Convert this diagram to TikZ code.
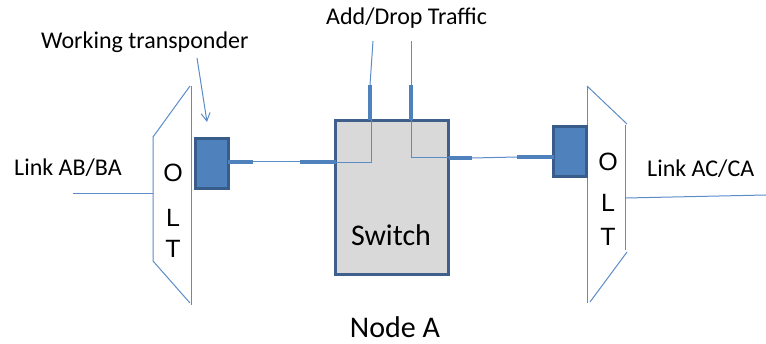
\documentclass[tikz,border=0pt]{standalone}
\usepackage{fontspec}
\setmainfont{Carlito}
\newfontfamily\oltfont{Liberation Sans}
\usetikzlibrary{arrows.meta}
\definecolor{lineblue}{HTML}{5B8CC8}
\definecolor{thickblue}{HTML}{4F81BD}
\definecolor{boxfill}{HTML}{4F81BD}
\definecolor{boxborder}{HTML}{385D8A}
\definecolor{swfill}{HTML}{D9D9D9}
\definecolor{swborder}{HTML}{3F608C}
\tikzset{
  thinline/.style={draw=lineblue, line width=1pt},
  thickline/.style={draw=thickblue, line width=4pt},
  tpbox/.style={draw=boxborder, fill=boxfill, line width=3pt, minimum width=33pt, minimum height=50pt, inner sep=0pt, outer sep=0pt},
  swbox/.style={draw=swborder, fill=swfill, line width=3pt, minimum width=113pt, minimum height=154pt, inner sep=0pt, outer sep=0pt},
  lbl/.style={font=\fontsize{24}{28}\selectfont, inner sep=0pt},
  oltlbl/.style={font=\oltfont\fontsize{25}{29}\selectfont, inner sep=0pt},
  biglbl/.style={font=\fontsize{30}{34}\selectfont, inner sep=0pt},
}
\begin{document}
\begin{tikzpicture}[x=1pt,y=-1pt]
\useasboundingbox (0,0) rectangle (766,344);
% left OLT
\draw[thinline] (153,137) -- (190,86);
\draw[thinline] (191,86) -- (191,305);
\draw[thinline] (153,137) -- (153,261) -- (190,303);
\node[oltlbl] (oL1) at (173,173) {O};
\node[oltlbl] (oL2) at (173,218) {L};
\node[oltlbl] (oL3) at (173,249) {T};
% right OLT
\draw[thinline] (587,86) -- (587,303);
\draw[thinline] (587,86) -- (627,124);
\draw[thinline] (625,125) -- (625,250);
\draw[thinline] (627,252) -- (590,302);
\node[oltlbl] (oR1) at (608,162) {O};
\node[oltlbl] (oR2) at (608,203) {L};
\node[oltlbl] (oR3) at (608,237) {T};
% boxes
\node[tpbox] (tpL) at (211.5,164) {};
\node[tpbox] (tpR) at (570,151.5) {};
\node[swbox] (sw) at (392,197.5) {};
\node[biglbl] (swt) at (391,235) {Switch};
% texts
\node[lbl, anchor=west] (linkL) at (14,168) {Link AB/BA};
\node[lbl, anchor=west] (linkR) at (647,169) {Link AC/CA};
\node[lbl, anchor=west] (work) at (41,42) {Working transponder};
\node[lbl, anchor=west] (add) at (326,18) {Add/Drop Traffic};
\node[biglbl] (node) at (395,327) {Node A};
% link lines
\coordinate (lAin) at (73,194);
\coordinate (lAout) at (153,194);
\draw[thinline] (lAin) -- (lAout);
\coordinate (rAin) at (626,198);
\coordinate (rAout) at (766,195);
\draw[thinline] (rAin) -- (rAout);
% working arrow
\coordinate (wa1) at (197,58);
\coordinate (wa2) at (207,122);
\draw[thinline, -{Straight Barb[length=8pt,width=9pt]}] (wa1) -- (wa2);
% left path
\coordinate (a1) at (253,162);
\coordinate (a2) at (300,162);
\coordinate (a3) at (371,163);
\coordinate (a4) at (370,85);
\coordinate (a5) at (373,41);
\draw[thickline] (tpL.east |- a1) -- (a1);
\draw[thinline] (a1) -- (a2);
\draw[thickline] (a2) -- (sw.west |- a2);
\draw[thinline] (sw.west |- a3) -- (a3) -- (a3 |- sw.north);
\draw[thickline] (a4 |- sw.north) -- (a4);
\draw[thinline] (a4) -- (a5);
% right path
\coordinate (b1) at (411,41);
\coordinate (b2) at (411,85);
\coordinate (b3) at (411,158);
\coordinate (b4) at (472,158);
\coordinate (b5) at (517,157);
\draw[thinline] (b1) -- (b2);
\draw[thickline] (b2) -- (b2 |- sw.north);
\draw[thinline] (b2 |- sw.north) -- (b3) -- (sw.east |- b3);
\draw[thickline] (sw.east |- b3) -- (b4);
\draw[thinline] (b4) -- (b5);
\draw[thickline] (b5) -- (tpR.west |- b5);
\end{tikzpicture}
\end{document}
